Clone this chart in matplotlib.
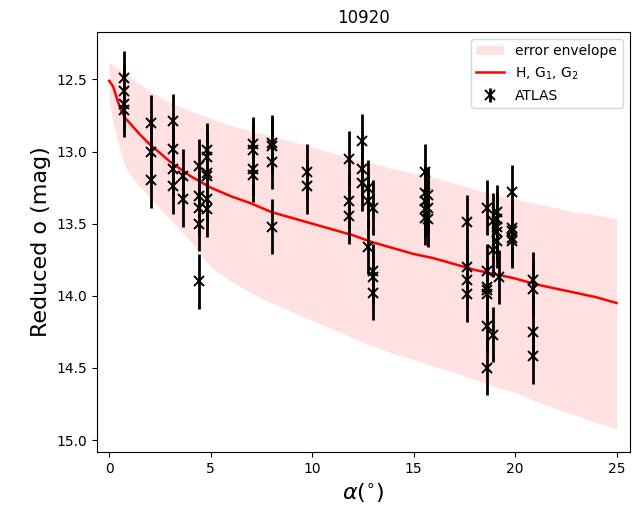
import matplotlib
matplotlib.use("Agg")
import matplotlib.pyplot as plt
import numpy as np

TITLE = "10920"

# ATLAS observations: phase angle (deg), reduced mag, error
alpha = [0.75, 0.75, 0.75, 0.75,
         2.07, 2.07, 2.07,
         3.17, 3.17, 3.17, 3.17,
         3.66, 3.66,
         4.45, 4.45, 4.45, 4.45, 4.45,
         4.81, 4.81, 4.81, 4.81, 4.81, 4.81,
         7.08, 7.08, 7.08, 7.08,
         8.04, 8.04, 8.04, 8.04,
         9.74, 9.74,
         11.82, 11.82, 11.82,
         12.45, 12.45, 12.45,
         12.73, 12.73, 12.73,
         12.99, 12.99, 12.99, 12.99,
         15.57, 15.57, 15.57, 15.57, 15.57,
         15.73, 15.73, 15.73,
         17.62, 17.62, 17.62, 17.62,
         18.64, 18.64, 18.64, 18.64, 18.64, 18.64, 18.64,
         18.93, 18.93, 18.93,
         19.10, 19.10, 19.10, 19.10, 19.10,
         19.22,
         19.84, 19.84, 19.84, 19.84, 19.84,
         20.87, 20.87, 20.87, 20.87]
mag = [12.49, 12.58, 12.67, 12.71,
       12.80, 13.00, 13.20,
       12.79, 12.98, 13.12, 13.24,
       13.17, 13.33,
       13.10, 13.31, 13.39, 13.50, 13.90,
       12.99, 13.04, 13.15, 13.17, 13.33, 13.40,
       12.95, 12.99, 13.12, 13.16,
       12.94, 12.96, 13.07, 13.52,
       13.14, 13.24,
       13.05, 13.34, 13.45,
       12.93, 13.12, 13.22,
       13.25, 13.34, 13.66,
       13.39, 13.83, 13.87, 13.98,
       13.14, 13.29, 13.34, 13.40, 13.46,
       13.30, 13.39, 13.47,
       13.49, 13.80, 13.89, 13.99,
       13.39, 13.83, 13.94, 13.96, 13.99, 14.21, 14.50,
       13.48, 13.68, 14.27,
       13.42, 13.47, 13.52, 13.56, 13.62,
       13.87,
       13.28, 13.53, 13.55, 13.60, 13.62,
       13.89, 13.95, 14.25, 14.42]
err = [0.19] * len(mag)

# H, G1, G2 fit and its error envelope
fit_alpha = [0, 0.2, 0.4, 0.6, 0.8, 1.0, 1.5, 2, 3, 4, 5, 6, 7, 8, 9, 10,
             11, 12, 13, 14, 15, 16, 17, 18, 19, 20, 21, 22, 23, 24, 25]
fit_mag = [12.51, 12.55, 12.64, 12.72, 12.77, 12.80, 12.88, 12.95, 13.07, 13.17,
           13.25, 13.31, 13.36, 13.42, 13.46, 13.50, 13.54, 13.58, 13.63, 13.67,
           13.71, 13.74, 13.78, 13.82, 13.85, 13.88, 13.92, 13.95, 13.98, 14.01, 14.05]
env_hi = [12.38, 12.40, 12.42, 12.44, 12.46, 12.48, 12.53, 12.58, 12.66, 12.72,
          12.77, 12.82, 12.86, 12.89, 12.93, 12.97, 13.01, 13.05, 13.08, 13.12,
          13.15, 13.18, 13.22, 13.26, 13.30, 13.33, 13.36, 13.39, 13.42, 13.44, 13.465]
env_lo = [12.66, 12.80, 12.92, 13.02, 13.11, 13.15, 13.24, 13.32, 13.47, 13.62,
          13.80, 13.90, 13.98, 14.05, 14.11, 14.17, 14.23, 14.29, 14.35, 14.40,
          14.44, 14.49, 14.53, 14.58, 14.63, 14.67, 14.73, 14.78, 14.83, 14.88, 14.92]

fig = plt.figure(figsize=(6.38, 5.05), dpi=100)
ax = fig.add_axes([0.152, 0.105, 0.835, 0.832])

ax.fill_between(fit_alpha, env_hi, env_lo, color="#ffe1e1", lw=0,
                label="error envelope")
ax.plot(fit_alpha, fit_mag, color="red", lw=1.8, label="H, G$_1$, G$_2$")
ax.errorbar(alpha, mag, yerr=err, fmt="x", color="black", ms=6.5, mew=1.4,
            elinewidth=2, label="ATLAS")

ax.set_xlim(-0.6, 25.65)
ax.set_ylim(15.083, 12.17)
ax.set_title(TITLE, fontsize=12)
ax.set_xlabel(r"$\alpha(^{\circ})$", fontsize=16)
ax.set_ylabel("Reduced o (mag)", fontsize=16)
ax.legend(loc="upper right", fontsize=10)

fig.savefig("out.png", dpi=100)
